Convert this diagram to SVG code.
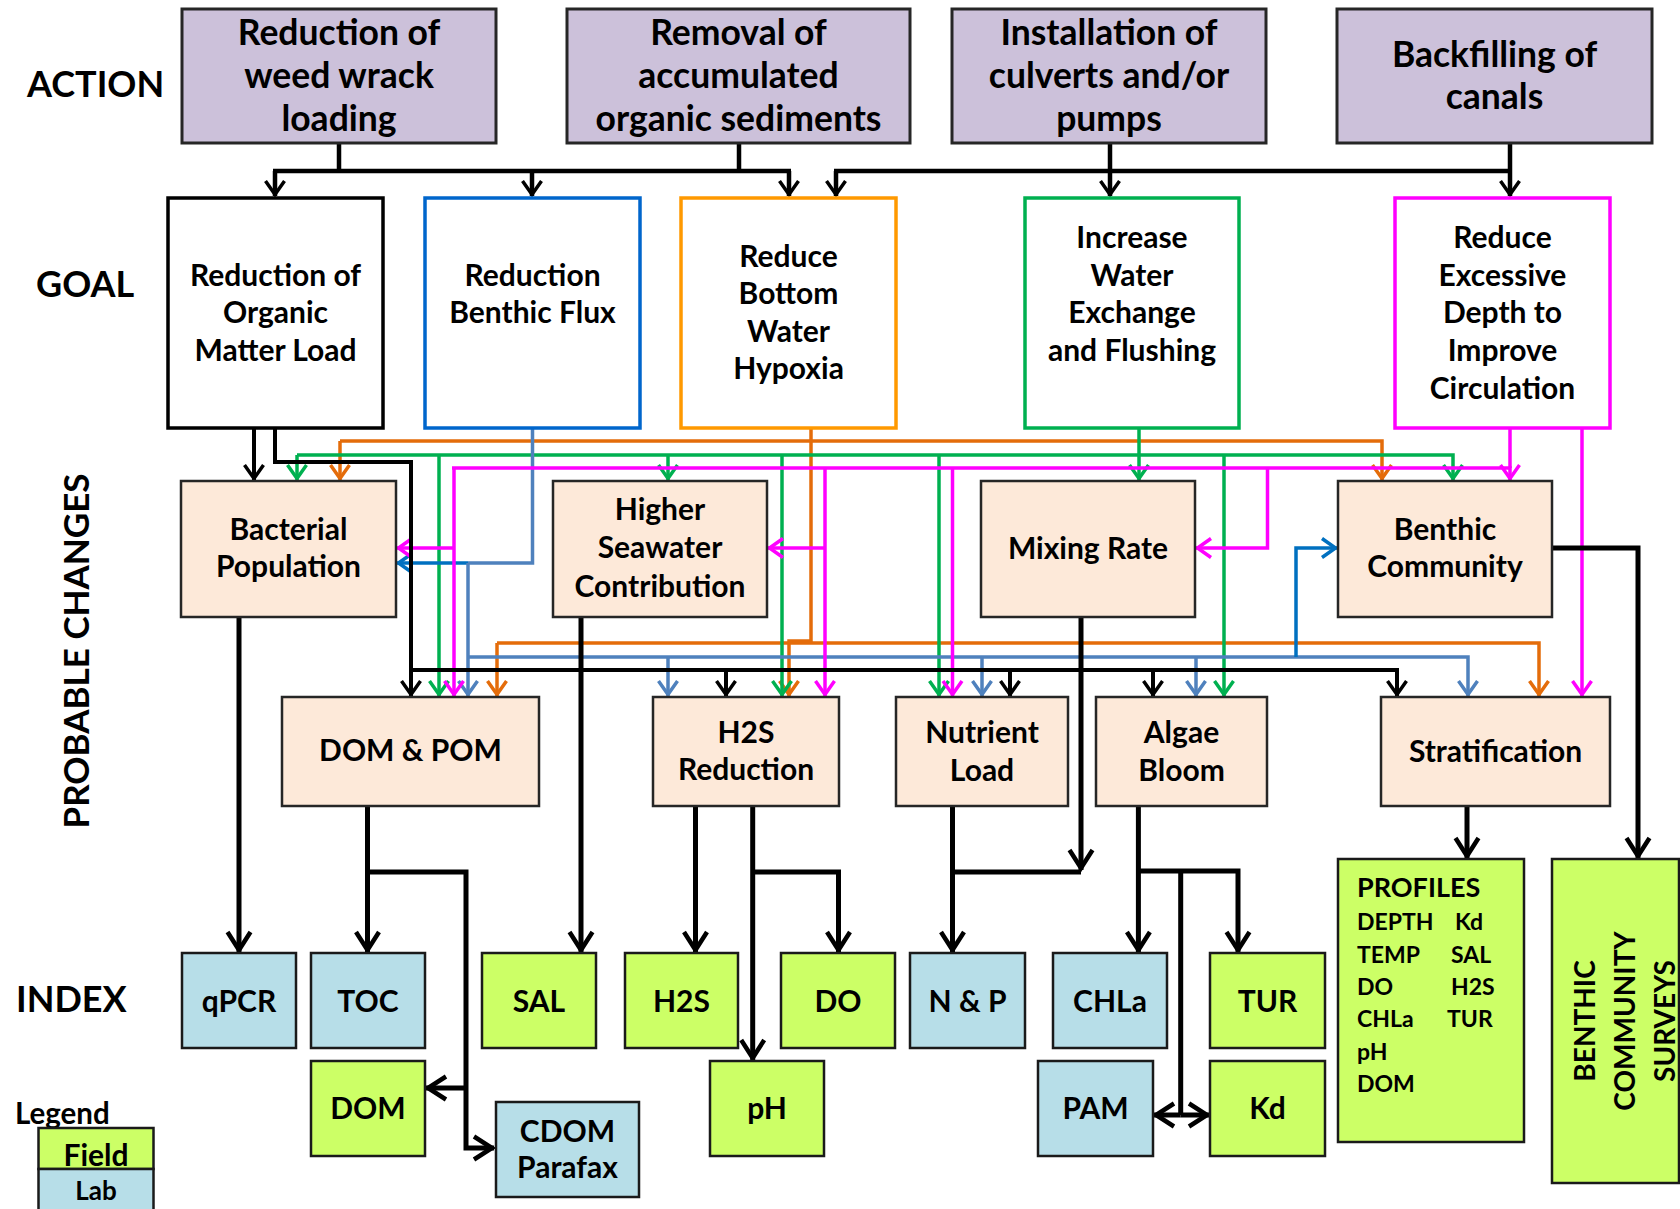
<svg xmlns="http://www.w3.org/2000/svg" width="1680" height="1209" viewBox="0 0 1680 1209">
<style>
.t{font-family:Lato,"Open Sans","Liberation Sans",sans-serif;font-weight:bold;fill:#000;text-anchor:middle}
.lbl{font-size:36px;text-anchor:start}
.at{font-size:35.5px}
.gt{font-size:30px}
.it{font-size:30px}
.act{fill:#ccc1da;stroke:#262626;stroke-width:3}
.goal{fill:#fff;stroke-width:3.5}
.pc{fill:#fde9d9;stroke:#262626;stroke-width:2.5}
.lab{fill:#b7dee8;stroke:#1a1a1a;stroke-width:2.5}
.fld{fill:#ccff66;stroke:#1a1a1a;stroke-width:2.5}
.c{fill:none;stroke-linejoin:miter}
.k{stroke:#000;stroke-width:4}
.kt{stroke:#000;stroke-width:4.5}
.kx{stroke:#000;stroke-width:5}
.g{stroke:#00b050;stroke-width:3.5}
.o{stroke:#e46c0a;stroke-width:3.5}
.b{stroke:#4f81bd;stroke-width:3.5}
.d{stroke:#0070c0;stroke-width:3.5}
.m{stroke:#ff00ff;stroke-width:3.5}
</style>
<defs>
<marker id="mk" markerUnits="userSpaceOnUse" viewBox="-22 -14 24 28" markerWidth="24" markerHeight="28" refX="0" refY="0" orient="auto" overflow="visible"><path d="M-15,-9.5 L-1.5,0 L-15,9.5" fill="none" stroke="#000" stroke-width="3.5"/></marker>
<marker id="mkL" markerUnits="userSpaceOnUse" viewBox="-24 -14 26 28" markerWidth="26" markerHeight="28" refX="0" refY="0" orient="auto" overflow="visible"><path d="M-20,-11.5 L-2,0 L-20,11.5" fill="none" stroke="#000" stroke-width="4.5"/></marker>
<marker id="mg" markerUnits="userSpaceOnUse" viewBox="-22 -14 24 28" markerWidth="24" markerHeight="28" refX="0" refY="0" orient="auto" overflow="visible"><path d="M-15,-9.5 L-1.5,0 L-15,9.5" fill="none" stroke="#00b050" stroke-width="3.5"/></marker>
<marker id="mo" markerUnits="userSpaceOnUse" viewBox="-22 -14 24 28" markerWidth="24" markerHeight="28" refX="0" refY="0" orient="auto" overflow="visible"><path d="M-15,-9.5 L-1.5,0 L-15,9.5" fill="none" stroke="#e46c0a" stroke-width="3.5"/></marker>
<marker id="mb" markerUnits="userSpaceOnUse" viewBox="-22 -14 24 28" markerWidth="24" markerHeight="28" refX="0" refY="0" orient="auto" overflow="visible"><path d="M-15,-9.5 L-1.5,0 L-15,9.5" fill="none" stroke="#4f81bd" stroke-width="3.5"/></marker>
<marker id="md" markerUnits="userSpaceOnUse" viewBox="-22 -14 24 28" markerWidth="24" markerHeight="28" refX="0" refY="0" orient="auto" overflow="visible"><path d="M-15,-9.5 L-1.5,0 L-15,9.5" fill="none" stroke="#0070c0" stroke-width="3.5"/></marker>
<marker id="mm" markerUnits="userSpaceOnUse" viewBox="-22 -14 24 28" markerWidth="24" markerHeight="28" refX="0" refY="0" orient="auto" overflow="visible"><path d="M-15,-9.5 L-1.5,0 L-15,9.5" fill="none" stroke="#ff00ff" stroke-width="3.5"/></marker>
</defs>
<rect width="1680" height="1209" fill="#fff"/>

<g id="row-labels">
<text class="t lbl" x="27" y="97">ACTION</text>
<text class="t lbl" x="36" y="297">GOAL</text>
<text class="t lbl" x="16" y="1012">INDEX</text>
<text class="t" style="font-size:35px" transform="translate(89,651) rotate(-90)">PROBABLE CHANGES</text>
</g>

<g id="connectors">
<!-- action to goal -->
<path class="c kt" d="M339,143 V171 M739,143 V171 M273,171 H791 M834,171 H1512"/>
<path class="c kt" marker-end="url(#mk)" d="M275,171 V196"/>
<path class="c kt" marker-end="url(#mk)" d="M532,171 V196"/>
<path class="c kt" marker-end="url(#mk)" d="M789,171 V196"/>
<path class="c kt" marker-end="url(#mk)" d="M836,171 V196"/>
<path class="c kt" marker-end="url(#mk)" d="M1110,143 V196"/>
<path class="c kt" marker-end="url(#mk)" d="M1510,143 V196"/>

<!-- orange -->
<path class="c o" d="M811,428 V643"/>
<path class="c o" marker-end="url(#mo)" d="M340,441 V480"/>
<path class="c o" marker-end="url(#mo)" d="M340,441 H1382 V480"/>
<path class="c o" marker-end="url(#mo)" d="M497,643 V696"/>
<path class="c o" marker-end="url(#mo)" d="M497,643 H1539 V696"/>
<path class="c o" marker-end="url(#mo)" d="M811,641 H789 V696"/>

<!-- green -->
<path class="c g" marker-end="url(#mg)" d="M1139,428 V480"/>
<path class="c g" marker-end="url(#mg)" d="M297,455 V480"/>
<path class="c g" marker-end="url(#mg)" d="M297,455 H1453 V480"/>
<path class="c g" marker-end="url(#mg)" d="M668,455 V480"/>
<path class="c g" marker-end="url(#mg)" d="M439,455 V696"/>
<path class="c g" marker-end="url(#mg)" d="M782,455 V696"/>
<path class="c g" marker-end="url(#mg)" d="M939,455 V696"/>
<path class="c g" marker-end="url(#mg)" d="M1224,455 V696"/>

<!-- steel blue -->
<path class="c b" d="M532.5,428 V563 H468"/>
<path class="c d" marker-end="url(#md)" d="M468,563 H397"/>
<path class="c b" marker-end="url(#mb)" d="M468,563 V696"/>
<path class="c b" marker-end="url(#mb)" d="M468,657 H1468 V696"/>
<path class="c b" marker-end="url(#mb)" d="M668,657 V696"/>
<path class="c b" marker-end="url(#mb)" d="M982,657 V696"/>
<path class="c b" marker-end="url(#mb)" d="M1196,657 V696"/>
<path class="c d" marker-end="url(#md)" d="M1296,657 V548 H1337"/>

<!-- magenta -->
<path class="c m" d="M1510,428 V468"/>
<path class="c m" marker-end="url(#mm)" d="M452,468 H1510 V480"/>
<path class="c m" marker-end="url(#mm)" d="M1582,428 V696"/>
<path class="c m" marker-end="url(#mm)" d="M454,468 V696"/>
<path class="c m" marker-end="url(#mm)" d="M454,548 H397"/>
<path class="c m" marker-end="url(#mm)" d="M825,468 V696"/>
<path class="c m" marker-end="url(#mm)" d="M825,548 H768"/>
<path class="c m" marker-end="url(#mm)" d="M952.5,468 V696"/>
<path class="c m" marker-end="url(#mm)" d="M1267.5,468 V548 H1196"/>

<!-- black in probable area -->
<path class="c k" marker-end="url(#mk)" d="M254,428 V480"/>
<path class="c k" marker-end="url(#mk)" d="M275,428 V462 H411 V696"/>
<path class="c k" marker-end="url(#mk)" d="M411,670 H1397 V696"/>
<path class="c k" marker-end="url(#mk)" d="M726,670 V696"/>
<path class="c k" marker-end="url(#mk)" d="M1010,670 V696"/>
<path class="c k" marker-end="url(#mk)" d="M1153,670 V696"/>

<!-- to index -->
<path class="c kx" marker-end="url(#mkL)" d="M239,617 V952"/>
<path class="c kx" marker-end="url(#mkL)" d="M367.5,806 V952"/>
<path class="c kx" marker-end="url(#mkL)" d="M367.5,872 H466 V1148 H494"/>
<path class="c kx" marker-end="url(#mkL)" d="M466,1088 H426"/>
<path class="c kx" marker-end="url(#mkL)" d="M581,617 V952"/>
<path class="c kx" marker-end="url(#mkL)" d="M695.5,806 V952"/>
<path class="c kx" marker-end="url(#mkL)" d="M752.7,806 V1060"/>
<path class="c kx" marker-end="url(#mkL)" d="M752.7,872 H838.5 V952"/>
<path class="c kx" d="M952.5,872 H1081"/>
<path class="c kx" marker-end="url(#mkL)" d="M952.5,806 V952"/>
<path class="c kx" marker-end="url(#mkL)" d="M1081,617 V870"/>
<path class="c kx" marker-end="url(#mkL)" d="M1138.4,806 V952"/>
<path class="c kx" marker-end="url(#mkL)" d="M1138.4,871 H1238 V952"/>
<path class="c kx" d="M1180.7,871 V1115"/>
<path class="c kx" marker-end="url(#mkL)" d="M1180.7,1115 H1154"/>
<path class="c kx" marker-end="url(#mkL)" d="M1180.7,1115 H1209"/>
<path class="c kx" marker-end="url(#mkL)" d="M1467,806 V858"/>
<path class="c kx" marker-end="url(#mkL)" d="M1552,548 H1638 V858"/>
</g>

<!-- ACTION -->
<g id="action1"><rect class="act" x="182" y="9" width="314" height="134"/>
<text class="t at" x="339" y="45">Reduction of</text><text class="t at" x="339" y="88">weed wrack</text><text class="t at" x="339" y="131">loading</text></g>
<g id="action2"><rect class="act" x="567" y="9" width="343" height="134"/>
<text class="t at" x="738.5" y="45">Removal of</text><text class="t at" x="738.5" y="88">accumulated</text><text class="t at" x="738.5" y="131">organic sediments</text></g>
<g id="action3"><rect class="act" x="952" y="9" width="314" height="134"/>
<text class="t at" x="1109" y="45">Installation of</text><text class="t at" x="1109" y="88">culverts and/or</text><text class="t at" x="1109" y="131">pumps</text></g>
<g id="action4"><rect class="act" x="1337" y="9" width="315" height="134"/>
<text class="t at" x="1494.5" y="67">Backfilling of</text><text class="t at" x="1494.5" y="109">canals</text></g>

<!-- GOAL -->
<g id="goal1"><rect class="goal" x="168" y="198" width="215" height="230" stroke="#000"/>
<text class="t gt" x="275.5" y="286">Reduction of</text><text class="t gt" x="275.5" y="323">Organic</text><text class="t gt" x="275.5" y="361">Matter Load</text></g>
<g id="goal2"><rect class="goal" x="425" y="198" width="215" height="230" stroke="#0066cc"/>
<text class="t gt" x="532.5" y="286">Reduction</text><text class="t gt" x="532.5" y="323">Benthic Flux</text></g>
<g id="goal3"><rect class="goal" x="681" y="198" width="215" height="230" stroke="#ff9900"/>
<text class="t gt" x="788.5" y="267">Reduce</text><text class="t gt" x="788.5" y="304">Bottom</text><text class="t gt" x="788.5" y="342">Water</text><text class="t gt" x="788.5" y="379">Hypoxia</text></g>
<g id="goal4"><rect class="goal" x="1025" y="198" width="214" height="230" stroke="#00b050"/>
<text class="t gt" x="1132" y="248">Increase</text><text class="t gt" x="1132" y="286">Water</text><text class="t gt" x="1132" y="323">Exchange</text><text class="t gt" x="1132" y="361">and Flushing</text></g>
<g id="goal5"><rect class="goal" x="1395" y="198" width="215" height="230" stroke="#ff00ff"/>
<text class="t gt" x="1502.5" y="248">Reduce</text><text class="t gt" x="1502.5" y="286">Excessive</text><text class="t gt" x="1502.5" y="323">Depth to</text><text class="t gt" x="1502.5" y="361">Improve</text><text class="t gt" x="1502.5" y="399">Circulation</text></g>

<!-- PROBABLE CHANGES -->
<g id="bacterial"><rect class="pc" x="181" y="481" width="215" height="136"/>
<text class="t gt" x="288.5" y="540">Bacterial</text><text class="t gt" x="288.5" y="577">Population</text></g>
<g id="seawater"><rect class="pc" x="553" y="481" width="214" height="136"/>
<text class="t gt" x="660" y="520">Higher</text><text class="t gt" x="660" y="558">Seawater</text><text class="t gt" x="660" y="597">Contribution</text></g>
<g id="mixing"><rect class="pc" x="981" y="481" width="214" height="136"/>
<text class="t gt" x="1088" y="559">Mixing Rate</text></g>
<g id="benthic"><rect class="pc" x="1338" y="481" width="214" height="136"/>
<text class="t gt" x="1445" y="540">Benthic</text><text class="t gt" x="1445" y="577">Community</text></g>
<g id="dompom"><rect class="pc" x="282" y="697" width="257" height="109"/>
<text class="t gt" x="410.5" y="761">DOM &amp; POM</text></g>
<g id="h2sred"><rect class="pc" x="653" y="697" width="186" height="109"/>
<text class="t gt" x="746" y="743">H2S</text><text class="t gt" x="746" y="780">Reduction</text></g>
<g id="nutrient"><rect class="pc" x="896" y="697" width="172" height="109"/>
<text class="t gt" x="982" y="743">Nutrient</text><text class="t gt" x="982" y="781">Load</text></g>
<g id="algae"><rect class="pc" x="1096" y="697" width="171" height="109"/>
<text class="t gt" x="1181.5" y="743">Algae</text><text class="t gt" x="1181.5" y="781">Bloom</text></g>
<g id="strat"><rect class="pc" x="1381" y="697" width="229" height="109"/>
<text class="t gt" x="1495.5" y="762">Stratification</text></g>

<!-- INDEX -->
<g id="qpcr"><rect class="lab" x="182" y="953" width="114" height="95"/><text class="t it" x="239" y="1012">qPCR</text></g>
<g id="toc"><rect class="lab" x="311" y="953" width="114" height="95"/><text class="t it" x="368" y="1012">TOC</text></g>
<g id="sal"><rect class="fld" x="482" y="953" width="114" height="95"/><text class="t it" x="539" y="1012">SAL</text></g>
<g id="h2s"><rect class="fld" x="625" y="953" width="113" height="95"/><text class="t it" x="681.5" y="1012">H2S</text></g>
<g id="do"><rect class="fld" x="781" y="953" width="114" height="95"/><text class="t it" x="838" y="1012">DO</text></g>
<g id="np"><rect class="lab" x="910" y="953" width="115" height="95"/><text class="t it" x="967.5" y="1012">N &amp; P</text></g>
<g id="chla"><rect class="lab" x="1053" y="953" width="114" height="95"/><text class="t it" x="1110" y="1012">CHLa</text></g>
<g id="tur"><rect class="fld" x="1210" y="953" width="115" height="95"/><text class="t it" x="1267.5" y="1012">TUR</text></g>
<g id="dom"><rect class="fld" x="311" y="1061" width="114" height="95"/><text class="t it" x="368" y="1119">DOM</text></g>
<g id="cdom"><rect class="lab" x="496" y="1102" width="143" height="95"/><text class="t it" x="567.5" y="1142">CDOM</text><text class="t it" x="567.5" y="1178">Parafax</text></g>
<g id="ph"><rect class="fld" x="710" y="1061" width="114" height="95"/><text class="t it" x="767" y="1119">pH</text></g>
<g id="pam"><rect class="lab" x="1038" y="1061" width="115" height="95"/><text class="t it" x="1095.5" y="1119">PAM</text></g>
<g id="kd"><rect class="fld" x="1210" y="1061" width="115" height="95"/><text class="t it" x="1267.5" y="1119">Kd</text></g>
<g id="profiles"><rect class="fld" x="1338" y="859" width="186" height="283"/>
<text class="t" style="font-size:27px;text-anchor:start" x="1357" y="897">PROFILES</text>
<g class="t" style="font-size:23px;text-anchor:start">
<text class="t" style="text-anchor:start" x="1357" y="930">DEPTH</text><text class="t" style="text-anchor:start" x="1455" y="930">Kd</text>
<text class="t" style="text-anchor:start" x="1357" y="963">TEMP</text><text class="t" style="text-anchor:start" x="1451" y="963">SAL</text>
<text class="t" style="text-anchor:start" x="1357" y="995">DO</text><text class="t" style="text-anchor:start" x="1451" y="995">H2S</text>
<text class="t" style="text-anchor:start" x="1357" y="1027">CHLa</text><text class="t" style="text-anchor:start" x="1447" y="1027">TUR</text>
<text class="t" style="text-anchor:start" x="1357" y="1060">pH</text>
<text class="t" style="text-anchor:start" x="1357" y="1092">DOM</text>
</g></g>
<g id="surveys"><rect class="fld" x="1552" y="859" width="127" height="324"/>
<text class="t" style="font-size:28px" transform="translate(1595,1021) rotate(-90)">BENTHIC</text>
<text class="t" style="font-size:28px" transform="translate(1635,1021) rotate(-90)">COMMUNITY</text>
<text class="t" style="font-size:28px" transform="translate(1675,1021) rotate(-90)">SURVEYS</text></g>

<!-- Legend -->
<g id="legend">
<text class="t" style="font-size:29.5px;text-anchor:start" x="15" y="1124">Legend</text>
<rect class="fld" x="38.5" y="1128" width="115" height="41"/>
<rect class="lab" x="38.5" y="1169" width="115" height="42"/>
<text class="t" style="font-size:30px" x="96" y="1166">Field</text>
<text class="t" style="font-size:26px" x="96" y="1200">Lab</text>
</g>
</svg>
